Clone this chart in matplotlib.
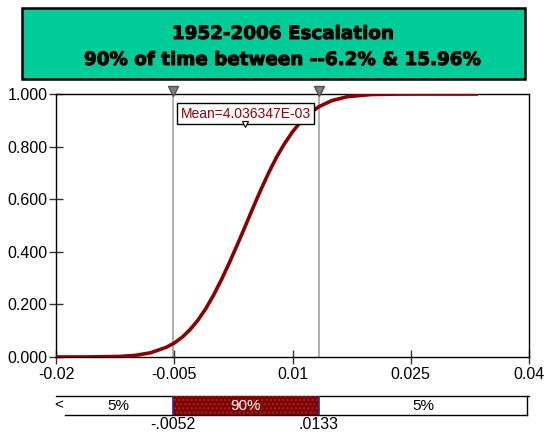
import numpy as np
import matplotlib
matplotlib.use("Agg")
from matplotlib import pyplot as plt
from matplotlib.patches import Rectangle
import matplotlib.patheffects as pe

## dados ##
x_vals = [-0.02, -0.016, -0.012, -0.01, -0.008, -0.006, -0.005, -0.004, -0.003,
          -0.002, -0.001, 0.0, 0.001, 0.002, 0.003, 0.004, 0.005, 0.006, 0.007,
          0.008, 0.009, 0.01, 0.011, 0.012, 0.0133, 0.015, 0.017, 0.02, 0.023,
          0.026, 0.03, 0.0333]
cdf_vals = [0.0, 0.0002, 0.002, 0.006, 0.016, 0.037, 0.053, 0.075, 0.104,
            0.140, 0.184, 0.236, 0.295, 0.359, 0.427, 0.497, 0.568, 0.637, 0.702,
            0.761, 0.812, 0.856, 0.893, 0.922, 0.951, 0.975, 0.990, 0.998, 0.9996,
            1.0, 1.0, 1.0]

low_cut = -0.0052
high_cut = 0.0133
mean_val = 4.036347e-03
band_labels = ['5%', '90%', '5%']
cut_labels = ['-.0052', '.0133']
xticks = [-0.02, -0.005, 0.01, 0.025, 0.04]
xtick_labels = ['-0.02', '-0.005', '0.01', '0.025', '0.04']
yticks = [0.0, 0.2, 0.4, 0.6, 0.8, 1.0]
ytick_labels = ['0.000', '0.200', '0.400', '0.600', '0.800', '1.000']
title_1 = "1952-2006 Escalation"
title_2 = "90% of time between --6.2% & 15.96%"

W, H = 545, 434
plt.rcParams['font.family'] = ['Liberation Sans', 'DejaVu Sans']
fig = plt.figure(figsize=(W / 100, H / 100), dpi=100)

# caixa do titulo
fig.patches.append(Rectangle((22 / W, 1 - 79 / H), (525 - 22) / W, (79 - 8) / H,
                             transform=fig.transFigure, facecolor='#00CC99',
                             edgecolor='black', linewidth=1.8))
grosso = [pe.withStroke(linewidth=0.7, foreground='black')]
fig.text(283 / W, 1 - 39 / H, title_1, ha='center', va='baseline',
         fontsize=13.2, fontweight='bold', family='DejaVu Sans',
         color='black', path_effects=grosso)
fig.text(283 / W, 1 - 65 / H, title_2, ha='center', va='baseline',
         fontsize=13.2, fontweight='bold', family='DejaVu Sans',
         color='black', path_effects=grosso)

## grafico principal ##
ax = fig.add_axes([56 / W, 1 - 357 / H, (529 - 56) / W, (357 - 94) / H])
ax.plot(x_vals, cdf_vals, color='#8B0000', linewidth=2.6, zorder=3)
ax.set_xlim(-0.02, 0.04)
ax.set_ylim(0, 1)
ax.set_xticks(xticks)
ax.set_xticklabels(xtick_labels)
ax.set_yticks(yticks)
ax.set_yticklabels(ytick_labels)
ax.tick_params(axis='both', direction='inout', length=10, width=1,
               labelsize=11.5, color='#333333')
ax.tick_params(axis='y', pad=1)
ax.tick_params(axis='x', pad=2)
for s in ax.spines.values():
    s.set_linewidth(1)
    s.set_color('black')

for c in [low_cut, high_cut]:
    ax.axvline(c, color='#b0b0b0', linewidth=1.4, zorder=1)
    ax.plot([c], [1.012], marker='v', markersize=7, color='#808080',
            markeredgecolor='#505050', clip_on=False, zorder=5)

ax.text(mean_val, 0.925, 'Mean=4.036347E-03', ha='center', va='center',
        fontsize=10, color='#990000', zorder=6,
        bbox=dict(boxstyle='square,pad=0.25', facecolor='white',
                  edgecolor='black', linewidth=1))
ax.plot([mean_val], [0.885], marker='v', markersize=5, color='white',
        markeredgecolor='black', markeredgewidth=0.8, zorder=7)

## barra de intervalo ##
bx = fig.add_axes([56 / W, 1 - 415 / H, (529 - 56) / W, (415 - 396) / H])
bx.set_xlim(-0.02, 0.04)
bx.set_ylim(0, 1)
bx.axis('off')
x_left = -0.0189
x_right = 0.0398
bx.plot([-0.02, 0.04], [1, 1], color='black', linewidth=1, clip_on=False)
bx.plot([x_left, x_right], [0, 0], color='black', linewidth=1, clip_on=False)
bx.plot([x_right, x_right], [0, 1], color='black', linewidth=1, clip_on=False)
bx.add_patch(Rectangle((low_cut, 0), high_cut - low_cut, 1, facecolor='#800000',
                       edgecolor='#9a2a2a', hatch='....', linewidth=0, zorder=2))
bx.plot([low_cut, low_cut], [0, 1], color='#2b2b9a', linewidth=1.2, zorder=3)
bx.plot([high_cut, high_cut], [0, 1], color='#2b2b9a', linewidth=1.2, zorder=3)
bx.text(-0.0197, 0.5, '<', ha='center', va='center', fontsize=11)
mids = [(x_left + low_cut) / 2, (low_cut + high_cut) / 2, (high_cut + x_right) / 2]
cols = ['black', 'white', 'black']
for m, lab, cc in zip(mids, band_labels, cols):
    bx.text(m, 0.45, lab, ha='center', va='center', fontsize=11, color=cc, zorder=4)
for c, lab in zip([low_cut, high_cut], cut_labels):
    bx.text(c, -0.52, lab, ha='center', va='center', fontsize=11.5, clip_on=False)

plt.savefig('out.png', dpi=100)
